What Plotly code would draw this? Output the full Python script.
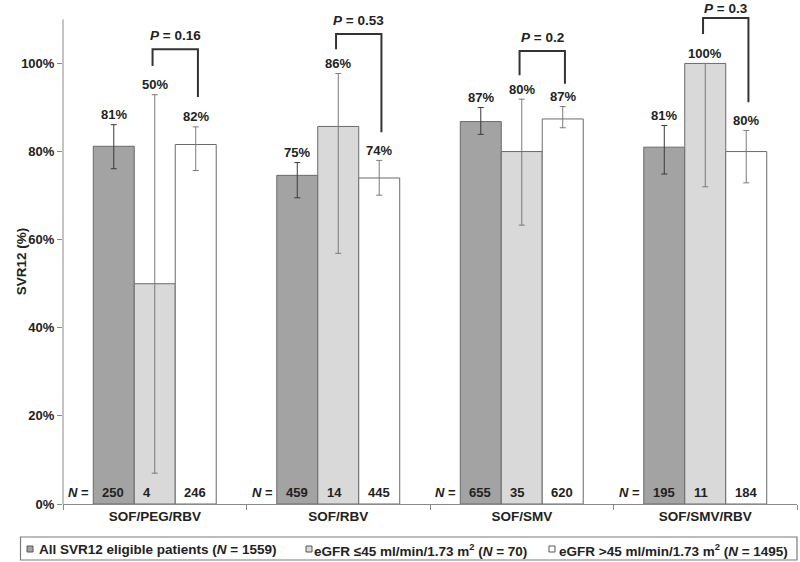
import plotly.graph_objects as go

categories = ["SOF/PEG/RBV", "SOF/RBV", "SOF/SMV", "SOF/SMV/RBV"]
series_names = ["All SVR12 eligible patients", "eGFR ≤45", "eGFR >45"]

svr_all = [81.2, 74.6, 86.8, 81.0]
svr_low = [50.0, 85.7, 80.0, 100.0]
svr_high = [81.6, 74.0, 87.4, 80.0]

ci_up_all = [86.1, 77.5, 90.0, 85.9]
ci_lo_all = [76.1, 69.5, 83.9, 74.9]
ci_up_low = [92.9, 97.7, 91.9, 100.0]
ci_lo_low = [7.0, 56.9, 63.3, 72.0]
ci_up_high = [85.6, 78.0, 90.2, 84.8]
ci_lo_high = [75.7, 70.1, 85.4, 72.9]

n_all = [250, 459, 655, 195]
n_low = [4, 14, 35, 11]
n_high = [246, 445, 620, 184]

p_values = ["0.16", "0.53", "0.2", "0.3"]
bracket_top = [103.2, 106.7, 102.8, 110.3]
bracket_left_end = [99.4, 103.2, 97.3, 106.7]
bracket_right_end = [92.4, 84.4, 95.4, 91.2]

legend_labels = [
    "All SVR12 eligible patients (<i>N</i> = 1559)",
    "eGFR ≤45 ml/min/1.73 m<sup>2</sup> (<i>N</i> = 70)",
    "eGFR >45 ml/min/1.73 m<sup>2</sup> (<i>N</i> = 1495)",
]

colors = ["#a3a3a3", "#d9d9d9", "#ffffff"]
err_colors = ["#3a3a3a", "#7a7a7a", "#7a7a7a"]
FONT = "Liberation Sans, Arial, sans-serif"

vals = [svr_all, svr_low, svr_high]
ups = [ci_up_all, ci_up_low, ci_up_high]
los = [ci_lo_all, ci_lo_low, ci_lo_high]
ns = [n_all, n_low, n_high]

YMAX = 114.4
PX_PER_UNIT = 504 / YMAX

fig = go.Figure()
for k in range(3):
    fig.add_trace(go.Bar(
        x=categories, y=vals[k], name=series_names[k],
        marker=dict(color=colors[k], line=dict(color="#6a6a6a", width=1)),
        error_y=dict(type="data", symmetric=False,
                     array=[u - v for u, v in zip(ups[k], vals[k])],
                     arrayminus=[v - l for v, l in zip(vals[k], los[k])],
                     color=err_colors[k], thickness=1, width=3),
        showlegend=False,
    ))

bw = 0.67 / 3
offsets = [-bw, 0, bw]
ann = []
shapes = []
for i in range(4):
    for k in range(3):
        xc = i + offsets[k]
        ann.append(dict(x=xc, y=ups[k][i], yshift=10, text=f"<b>{round(vals[k][i])}%</b>",
                        showarrow=False, font=dict(size=13, color="#222", family=FONT),
                        xref="x", yref="y"))
        ann.append(dict(x=xc - bw / 2, xshift=7, xanchor="left", y=2.5, text=f"<b>{ns[k][i]}</b>",
                        showarrow=False, font=dict(size=13, color="#222", family=FONT),
                        xref="x", yref="y"))
    ann.append(dict(x=i - 1.5 * bw, xshift=-2, y=2.5, xanchor="right",
                    text="<b><i>N</i> =</b>", showarrow=False,
                    font=dict(size=13, color="#222", family=FONT), xref="x", yref="y"))
    xl = i - 0.012
    xr = i + bw + 0.012
    shapes.append(dict(type="path", xref="x", yref="y",
                       path=f"M {xl} {bracket_left_end[i]} L {xl} {bracket_top[i]} L {xr} {bracket_top[i]} L {xr} {bracket_right_end[i]}",
                       line=dict(color="#333", width=2)))
    ytxt = bracket_top[i] + 3.1
    top_px = (YMAX - ytxt) * PX_PER_UNIT - 8.5
    ann.append(dict(x=(xl + xr) / 2, y=ytxt, yshift=min(0, top_px),
                    text=f"<b><i>P</i> = {p_values[i]}</b>",
                    showarrow=False, font=dict(size=13.5, color="#222", family=FONT),
                    xref="x", yref="y"))

# y axis line up to 110
shapes.append(dict(type="line", xref="paper", yref="y", x0=0, x1=0, y0=0, y1=110,
                   line=dict(color="#8a8a8a", width=1)))

# y title
ann.append(dict(xref="paper", yref="y", x=(12 - 63) / 734, y=55, text="<b>SVR12 (%)</b>",
                textangle=-90, showarrow=False, font=dict(size=13.5, color="#222", family=FONT)))

# manual legend
W, H = 800, 562
ml, mr, mt, mb = 63, 3, 0, 58
pw, ph = W - ml - mr, H - mt - mb
def px(xp):
    return (xp - ml) / pw
def py(yp):
    return (H - mb - yp) / ph

shapes.append(dict(type="rect", xref="paper", yref="paper", x0=px(20.5), x1=px(797),
                   y0=py(560), y1=py(537), line=dict(color="#7a7a7a", width=1.2),
                   fillcolor="rgba(0,0,0,0)"))
sq_x = [27, 306, 549]
tx_x = [37, 312, 557]
for k in range(3):
    shapes.append(dict(type="rect", xref="paper", yref="paper", x0=px(sq_x[k]), x1=px(sq_x[k] + 6),
                       y0=py(552), y1=py(546), line=dict(color="#555", width=1),
                       fillcolor=colors[k]))
    ann.append(dict(xref="paper", yref="paper", x=px(tx_x[k]), y=py(549.5), xanchor="left",
                    yanchor="middle", text=f"<b>{legend_labels[k]}</b>", showarrow=False,
                    font=dict(size=13.5, color="#222", family=FONT)))

fig.update_layout(
    width=W, height=H, margin=dict(l=ml, r=mr, t=mt, b=mb),
    barmode="group", bargap=0.33, bargroupgap=0,
    plot_bgcolor="white", paper_bgcolor="white",
    font=dict(family=FONT, color="#222"),
    xaxis=dict(showline=True, linecolor="#8a8a8a", linewidth=1, ticks="outside",
               tickson="boundaries", ticklen=5, tickcolor="#8a8a8a", showgrid=False,
               tickfont=dict(size=13.5, family=FONT, color="#222"),
               tickvals=categories, ticktext=[f"<b>{c}</b>" for c in categories]),
    yaxis=dict(range=[0, YMAX], showline=False, showgrid=False, zeroline=False,
               tickvals=[0, 20, 40, 60, 80, 100],
               ticktext=["<b>0%</b>", "<b>20%</b>", "<b>40%</b>", "<b>60%</b>", "<b>80%</b>", "<b>100%</b>"],
               ticks="outside", ticklen=5, tickcolor="#8a8a8a",
               tickfont=dict(size=13, family=FONT, color="#222")),
    annotations=ann, shapes=shapes,
)

fig.write_html("out.html", config={"displayModeBar": False},
               post_script="document.body.style.margin='0';document.body.style.overflow='hidden';")
